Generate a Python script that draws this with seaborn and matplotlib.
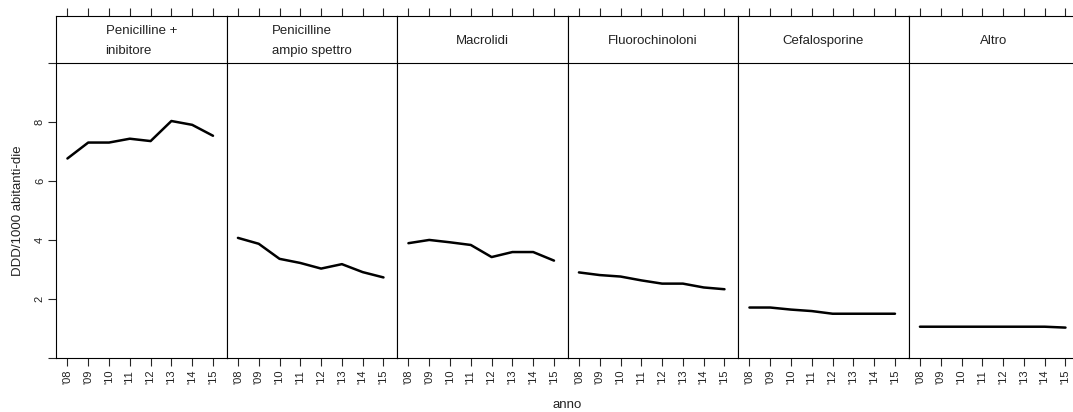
import matplotlib
matplotlib.use("Agg")
import matplotlib.pyplot as plt
import seaborn as sns
import pandas as pd

# ---- data ----
anni = [2008, 2009, 2010, 2011, 2012, 2013, 2014, 2015]
etichette_anni = ["'08", "'09", "'10", "'11", "'12", "'13", "'14", "'15"]
classi = ["Penicilline +\ninibitore", "Penicilline\nampio spettro", "Macrolidi",
          "Fluorochinoloni", "Cefalosporine", "Altro"]
penicilline_inib = [6.76, 7.30, 7.30, 7.43, 7.35, 8.03, 7.90, 7.53]
penicilline_ampio = [4.07, 3.87, 3.36, 3.22, 3.03, 3.18, 2.91, 2.73]
macrolidi = [3.89, 4.00, 3.92, 3.83, 3.42, 3.59, 3.59, 3.30]
fluorochinoloni = [2.90, 2.81, 2.76, 2.63, 2.52, 2.52, 2.39, 2.33]
cefalosporine = [1.71, 1.71, 1.64, 1.59, 1.50, 1.50, 1.50, 1.50]
altro = [1.06, 1.06, 1.06, 1.06, 1.06, 1.06, 1.06, 1.03]
y_ticks = [0, 2, 4, 6, 8, 10]
y_ticklabels = ["", "2", "4", "6", "8", ""]

serie = [penicilline_inib, penicilline_ampio, macrolidi, fluorochinoloni, cefalosporine, altro]
rows = []
for c, vals in zip(classi, serie):
    for a, v in zip(anni, vals):
        rows.append({"anno": a, "valore": v, "classe": c})
df = pd.DataFrame(rows)

sns.set_style("ticks")
plt.rcParams["font.family"] = ["Liberation Sans", "DejaVu Sans"]
plt.rcParams["axes.linewidth"] = 0.8
txt_col = "#222222"

g = sns.relplot(data=df, x="anno", y="valore", col="classe", col_order=classi,
                kind="line", color="black", linewidth=1.8, height=4, aspect=0.4,
                facet_kws=dict(sharex=True, sharey=True))
fig = g.figure
fig.set_size_inches(10.73, 4.12)
fig.set_dpi(100)

W, H = 1073.0, 412.0
left_px, panel_w = 56.0, 170.5
bottom_px, top_px = 358.0, 16.0
strip_h_units = 47.0 / 29.6
ymax = 10 + strip_h_units
x0, x1 = 2007.45, 2015.65

for i, ax in enumerate(g.axes.flat):
    ax.set_position([(left_px + i * panel_w) / W, 1 - bottom_px / H,
                     panel_w / W, (bottom_px - top_px) / H])
    ax.set_title("")
    ax.set_xlabel("")
    ax.set_ylabel("")
    ax.set_xlim(x0, x1)
    ax.set_ylim(0, ymax)
    for s in ax.spines.values():
        s.set_visible(True)
        s.set_color("black")
        s.set_linewidth(0.8)
    ax.set_xticks(anni)
    ax.set_xticklabels(etichette_anni, rotation=90, fontsize=8, color=txt_col)
    ax.tick_params(axis="x", top=True, bottom=True, labeltop=False, labelbottom=True,
                   direction="out", length=5.5, width=0.8, pad=3)
    ax.axhline(10, color="black", lw=0.8)
    if i == 0:
        ax.set_yticks(y_ticks)
        ax.set_yticklabels(y_ticklabels, rotation=90, va="center", fontsize=8, color=txt_col)
        ax.tick_params(axis="y", left=True, labelleft=True, direction="out",
                       length=6, width=0.8, pad=2)
    else:
        ax.tick_params(axis="y", left=False, labelleft=False, right=False)
    ax.text((x0 + x1) / 2, 10 + strip_h_units / 2 - 0.06, classi[i],
            ha="center", va="center", multialignment="left", linespacing=1.9,
            fontsize=9.5, color=txt_col)

fig.text((left_px + 3 * panel_w) / W, 1 - 405.0 / H, "anno", ha="center", va="center",
         fontsize=9.5, color=txt_col)
fig.text(18.0 / W, 1 - 210.5 / H, "DDD/1000 abitanti-die", ha="center", va="center",
         rotation=90, fontsize=9.5, color=txt_col)

fig.savefig("out.png", dpi=100)
